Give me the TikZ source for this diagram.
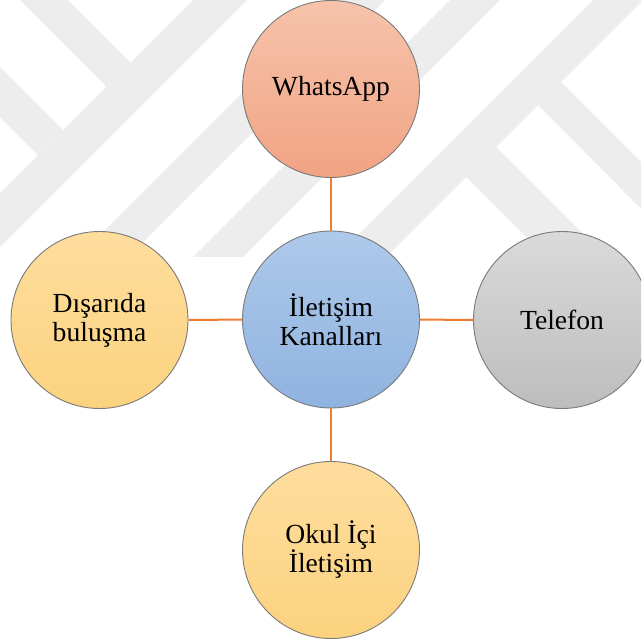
\documentclass[tikz,border=0pt]{standalone}
\usepackage{fontspec}
\setmainfont{Liberation Serif}
\definecolor{wm}{HTML}{EDEDED}
\definecolor{outl}{HTML}{7A7A7A}
\definecolor{conn}{HTML}{ED7D31}
\definecolor{waT}{HTML}{F6C4AB}
\definecolor{waB}{HTML}{F1A383}
\definecolor{ceT}{HTML}{AEC9EA}
\definecolor{ceB}{HTML}{8FB3E0}
\definecolor{yeT}{HTML}{FEDD9D}
\definecolor{yeB}{HTML}{FBD27F}
\definecolor{grT}{HTML}{DADADA}
\definecolor{grB}{HTML}{BDBDBD}
\tikzset{
  bubble/.style={circle, draw=outl, line width=0.9pt, minimum size=177pt, inner sep=0pt,
    align=center, font=\fontsize{27.6}{29}\selectfont, text=black},
  link/.style={draw=conn, line width=2pt},
  band/.style={fill=wm}
}
\begin{document}
\begin{tikzpicture}[x=1pt,y=-1pt]
\useasboundingbox (0,0) rectangle (641,643);
\fill[white] (0,0) rectangle (641,643);
% watermark
\begin{scope}
\clip (0,0) rectangle (641,256);
\fill[band] (0,193) -- (193,0) -- (247,0) -- (0,247) -- cycle;
\fill[band] (20,0) -- (68,0) -- (131,63) -- (107,87) -- cycle;
\fill[band] (0,67) -- (63,130) -- (38,155) -- (0,117) -- cycle;
\fill[band] (335,0) -- (385,0) -- (0,385) -- (0,335) -- cycle;
\fill[band] (450,0) -- (500,0) -- (0,500) -- (0,450) -- cycle;
\fill[band] (593,0) -- (643,0) -- (0,643) -- (0,593) -- cycle;
\fill[band] (538,105) -- (561,82) -- (700,221) -- (700,268) -- cycle;
\fill[band] (466,177) -- (496,147) -- (700,351) -- (700,411) -- cycle;
\end{scope}
\clip (0,0) rectangle (641,643);
\node[bubble, top color=waT, bottom color=waB] (wa) at (331,89) {WhatsApp};
\node[bubble, top color=ceT, bottom color=ceB] (ce) at (331,319.5) {İletişim\\Kanalları};
\node[bubble, top color=yeT, bottom color=yeB] (di) at (99.5,320) {Dışarıda\\buluşma};
\node[bubble, top color=grT, bottom color=grB] (te) at (562,320) {Telefon};
\node[bubble, top color=yeT, bottom color=yeB] (ok) at (331,550) {Okul İçi\\İletişim};
\draw[link] (wa) -- (ce);
\draw[link] (ce) -- (ok);
\draw[link] (di) -- (ce);
\draw[link] (ce) -- (te);
\end{tikzpicture}
\end{document}
